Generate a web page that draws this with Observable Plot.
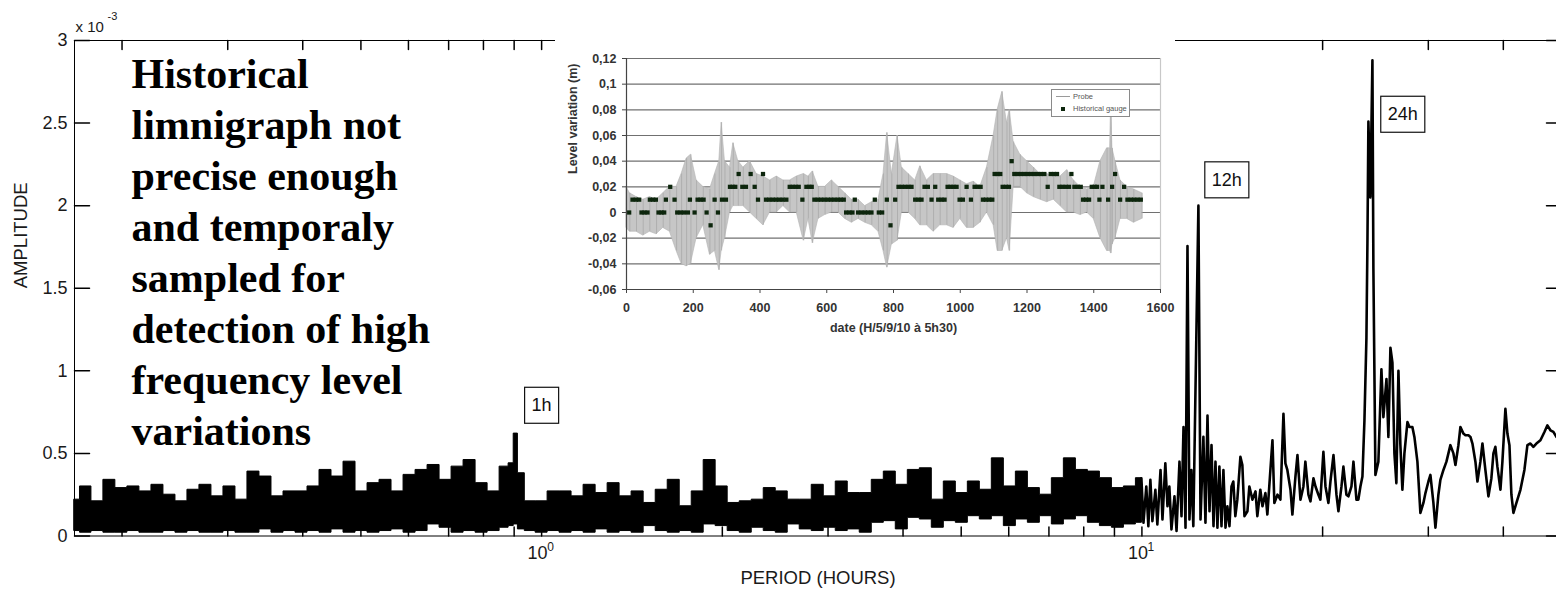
<!DOCTYPE html>
<html><head><meta charset="utf-8">
<script src="https://cdn.jsdelivr.net/npm/d3@7"></script>
<script src="https://cdn.jsdelivr.net/npm/@observablehq/plot@0.6"></script>
<style>
html,body{margin:0;padding:0;background:#fff;overflow:hidden;}
#wrap{position:relative;width:1556px;height:598px;overflow:hidden;background:#fff;}
#main{position:absolute;left:0;top:0;}
#inset{position:absolute;left:555px;top:36px;}
#legend{position:absolute;left:1051px;top:89px;width:77px;height:26px;border:1px solid #8a8a8a;background:#fff;font-family:"Liberation Sans",Arial,sans-serif;color:#555;}
#legend .row{position:absolute;left:4px;height:9px;display:flex;align-items:center;white-space:nowrap;}
#legend .ln{display:inline-block;width:14px;height:1px;background:#9a9a9a;margin-right:3px;}
#legend .sq{display:inline-block;width:4px;height:4px;background:#0d260d;margin:0 8px 0 5px;}
#legend .lt{font-size:7.5px;line-height:9px;}
</style></head><body>
<div id="wrap"><div id="main"></div><div id="inset"></div>
<div id="legend"><div class="row" style="top:2px"><span class="ln"></span><span class="lt">Probe</span></div><div class="row" style="top:14px"><span class="sq"></span><span class="lt">Historical gauge</span></div></div>
</div>
<script>
// ---------------- main spectrum ----------------
const periodDomain = [1/6, 50];
const amplitudeDomain = [0, 3];
const yTickValues = [0, 0.5, 1, 1.5, 2, 2.5, 3];
const yTickLabels = ["0", "0.5", "1", "1.5", "2", "2.5", "3"];
const xMinorTicks = [0.2,0.3,0.4,0.5,0.6,0.7,0.8,0.9,1,2,3,4,5,6,7,8,9,10,20,30,40];
const xDecadeTicks = [1, 10];
const xDecadeExponents = ["0", "1"];

// dense part of the spectrum (envelope of the black band), period in hours, amplitude x 1e-3
const bandPeriod = [0.1667,0.1738,0.1820,0.1905,0.1995,0.2089,0.2188,0.2291,0.2399,0.2512,
  0.2630,0.2754,0.2884,0.3020,0.3162,0.3311,0.3467,0.3631,0.3802,0.3981,
  0.4169,0.4365,0.4571,0.4786,0.5012,0.5248,0.5495,0.5754,0.6026,0.6310,
  0.6607,0.6918,0.7244,0.7586,0.7943,0.8318,0.8710,0.8913,0.9057,0.9204,
  0.9550,1.000,1.047,1.096,1.148,1.202,1.259,1.318,1.380,1.445,
  1.514,1.585,1.660,1.738,1.820,1.905,1.995,2.089,2.188,2.291,
  2.399,2.512,2.630,2.754,2.884,3.020,3.162,3.311,3.467,3.631,
  3.802,3.981,4.169,4.365,4.571,4.786,5.012,5.248,5.495,5.754,
  6.026,6.310,6.607,6.918,7.244,7.586,7.943,8.318,8.710,9.120,
  9.550,10.00];
const bandHigh = [0.22,0.30,0.21,0.34,0.29,0.30,0.27,0.31,0.25,0.21,
  0.28,0.31,0.24,0.30,0.22,0.39,0.36,0.24,0.27,0.27,
  0.30,0.40,0.36,0.45,0.27,0.32,0.34,0.27,0.37,0.40,
  0.43,0.34,0.42,0.46,0.32,0.27,0.42,0.44,0.62,0.38,
  0.21,0.21,0.27,0.27,0.24,0.31,0.26,0.32,0.24,0.27,
  0.20,0.28,0.34,0.18,0.27,0.46,0.30,0.20,0.21,0.22,
  0.29,0.27,0.22,0.22,0.31,0.24,0.33,0.26,0.26,0.34,
  0.39,0.31,0.40,0.41,0.22,0.33,0.26,0.33,0.28,0.47,
  0.30,0.39,0.29,0.25,0.35,0.47,0.40,0.39,0.35,0.29,
  0.30,0.35];
const bandLow = [0.03,0.02,0.03,0.02,0.02,0.03,0.02,0.02,0.03,0.02,
  0.03,0.02,0.02,0.03,0.02,0.02,0.04,0.02,0.03,0.02,
  0.03,0.02,0.04,0.02,0.03,0.02,0.03,0.04,0.02,0.03,
  0.07,0.05,0.02,0.03,0.02,0.03,0.05,0.06,0.07,0.04,
  0.03,0.02,0.03,0.02,0.03,0.02,0.04,0.02,0.03,0.02,
  0.06,0.03,0.02,0.03,0.02,0.07,0.06,0.03,0.02,0.05,
  0.03,0.02,0.07,0.04,0.03,0.05,0.03,0.04,0.02,0.08,
  0.09,0.04,0.11,0.10,0.05,0.09,0.08,0.12,0.10,0.12,
  0.06,0.10,0.08,0.12,0.07,0.10,0.12,0.08,0.06,0.05,
  0.07,0.08];

// sparse part of the spectrum (individual oscillations), period in hours, amplitude x 1e-3
const linePeriod = [9.98,10.06,10.17,10.25,10.33,10.41,10.53,10.61,10.74,10.82,
  10.94,11.03,11.11,11.20,11.33,11.42,11.55,11.64,11.73,11.82,
  11.91,12.00,12.09,12.18,12.42,12.52,12.66,12.76,12.86,12.96,
  13.06,13.16,13.26,13.36,13.46,13.57,13.67,13.78,13.88,13.99,
  14.10,14.20,14.31,14.42,14.59,14.70,14.82,14.99,15.10,15.28,
  15.46,15.57,15.75,15.88,16.06,16.18,16.37,16.50,16.62,16.82,
  17.01,17.21,17.34,17.47,17.68,17.81,18.02,18.16,18.37,18.58,
  18.72,18.94,19.09,19.31,19.46,19.68,19.83,20.06,20.22,20.45,
  20.61,20.85,21.09,21.25,21.50,21.66,21.91,22.08,22.34,22.51,
  22.77,22.94,23.12,23.30,23.48,23.66,23.75,23.84,24.02,24.21,
  24.30,24.49,24.77,25.06,25.25,25.55,25.74,25.94,26.14,26.34,
  26.54,26.75,26.95,27.16,27.37,27.69,27.90,28.22,28.44,28.77,
  29.10,29.44,29.67,30.01,30.24,30.59,30.83,31.18,31.42,31.79,
  32.16,32.65,33.03,33.29,33.67,33.93,34.32,34.59,34.99,35.26,
  35.53,35.94,36.22,36.63,36.92,37.34,37.78,38.21,38.51,38.80,
  39.10,39.56,39.86,40.32,40.63,40.95,41.26,41.58,42.06,42.71,
  43.37,43.87,44.38,44.89,45.41,46.12,46.83,47.37,47.92,48.47,
  49.03,50.0];
const lineAmp = [0.35,0.08,0.30,0.06,0.34,0.09,0.28,0.07,0.40,0.10,
  0.44,0.18,0.30,0.04,0.24,0.03,0.45,0.12,0.66,0.05,
  1.755,0.10,0.40,0.06,2.00,0.10,0.60,0.08,0.73,0.15,
  0.55,0.06,0.45,0.05,0.42,0.06,0.40,0.05,0.18,0.06,
  0.30,0.33,0.12,0.22,0.48,0.43,0.12,0.15,0.30,0.22,
  0.27,0.12,0.28,0.18,0.26,0.13,0.40,0.58,0.20,0.25,
  0.22,0.74,0.44,0.40,0.28,0.13,0.36,0.49,0.22,0.30,
  0.45,0.25,0.21,0.35,0.30,0.25,0.22,0.51,0.30,0.20,
  0.33,0.49,0.25,0.15,0.30,0.42,0.25,0.24,0.30,0.45,
  0.22,0.22,0.30,0.36,0.70,1.20,1.77,2.51,2.05,2.88,
  1.62,0.37,0.45,1.01,0.72,0.95,0.60,1.14,1.05,0.50,
  0.32,1.00,0.55,0.28,0.50,0.69,0.66,0.66,0.60,0.45,
  0.14,0.20,0.26,0.33,0.37,0.20,0.05,0.25,0.34,0.40,
  0.45,0.55,0.50,0.43,0.55,0.66,0.62,0.61,0.61,0.60,
  0.56,0.45,0.33,0.45,0.56,0.40,0.24,0.35,0.50,0.54,
  0.42,0.28,0.45,0.77,0.62,0.55,0.25,0.14,0.20,0.28,
  0.40,0.55,0.56,0.54,0.56,0.58,0.63,0.67,0.64,0.63,
  0.60,0.64];

const annoText = ["1h", "12h", "24h"];
const annoPeriod = [1.0, 13.85, 27.2];
const annoAmp = [0.79, 2.155, 2.552];

const noteLines = ["Historical", "limnigraph not", "precise enough", "and temporaly",
  "sampled for", "detection of high", "frequency level", "variations"];

// ---------------- inset (time series) ----------------
const insetXTicks = [0, 200, 400, 600, 800, 1000, 1200, 1400, 1600];
const insetYTicks = [-0.06, -0.04, -0.02, 0, 0.02, 0.04, 0.06, 0.08, 0.1, 0.12];
const insetYLabels = ["-0,06", "-0,04", "-0,02", "0", "0,02", "0,04", "0,06", "0,08", "0,1", "0,12"];

const probeT = [0,10,30,50,70,90,110,130,150,165,180,193,210,230,250,265,278,285,295,310,
  320,335,350,370,390,410,430,450,470,490,510,531,545,558,575,595,615,635,655,675,
  695,715,735,755,770,781,795,812,825,845,865,880,900,920,940,960,980,1000,1020,1040,
  1060,1080,1100,1112,1126,1140,1148,1160,1180,1200,1220,1240,1260,1280,1300,1320,1340,1360,1380,1400,
  1420,1440,1449,1452,1456,1465,1480,1500,1520,1545];
const probeLow = [-0.012,-0.015,-0.015,-0.018,-0.015,-0.017,-0.012,-0.015,-0.030,-0.040,
  -0.042,-0.040,-0.020,-0.010,-0.033,-0.030,-0.045,-0.030,-0.020,0.000,
  0.005,0.005,0.005,0.000,-0.005,-0.010,0.000,0.000,0.005,0.000,
  0.000,-0.022,-0.005,-0.024,-0.005,-0.002,0.000,0.000,-0.005,-0.008,
  -0.005,-0.008,-0.010,-0.015,-0.030,-0.043,-0.025,-0.022,0.000,0.000,
  -0.005,-0.010,-0.010,-0.015,-0.010,-0.010,-0.012,-0.005,-0.012,-0.012,
  -0.008,0.000,-0.010,-0.030,-0.030,-0.020,-0.030,0.020,0.020,0.015,
  0.012,0.010,0.008,0.010,0.005,0.000,0.000,-0.002,0.000,-0.005,
  -0.020,-0.030,-0.030,-0.032,-0.025,-0.020,-0.005,-0.005,-0.008,-0.005];
const probeHigh = [0.020,0.015,0.012,0.010,0.012,0.010,0.015,0.020,0.020,0.030,
  0.042,0.045,0.025,0.020,0.018,0.030,0.040,0.070,0.040,0.035,
  0.054,0.040,0.035,0.040,0.030,0.028,0.025,0.028,0.025,0.025,
  0.028,0.030,0.028,0.032,0.020,0.020,0.025,0.020,0.015,0.010,
  0.010,0.005,0.008,0.010,0.030,0.062,0.030,0.060,0.035,0.030,
  0.025,0.036,0.025,0.030,0.030,0.030,0.028,0.025,0.022,0.024,
  0.020,0.035,0.060,0.080,0.094,0.070,0.080,0.055,0.045,0.040,
  0.035,0.030,0.030,0.028,0.028,0.033,0.025,0.020,0.018,0.020,
  0.040,0.050,0.050,0.085,0.050,0.040,0.025,0.020,0.018,0.015];

const gaugeT = [8,18,28,38,45,54,63,70,80,88,
  96,105,113,118,131,144,152,162,172,184,
  190,204,213,222,231,240,252,264,274,286,
  298,310,318,326,336,347,358,372,384,394,
  409,418,428,438,448,458,468,479,489,498,
  507,516,527,539,548,555,563,573,583,593,
  603,613,623,633,642,651,658,668,677,684,
  694,704,714,724,734,744,756,766,780,791,
  805,815,825,835,845,854,865,875,884,893,
  903,914,925,934,944,953,962,971,980,989,
  998,1008,1019,1032,1043,1052,1061,1068,1077,1087,
  1096,1103,1112,1120,1127,1137,1146,1154,1162,1172,
  1182,1192,1202,1212,1222,1232,1242,1252,1262,1271,
  1281,1290,1297,1306,1316,1326,1333,1342,1352,1361,
  1368,1377,1386,1394,1403,1410,1417,1426,1443,1455,
  1464,1479,1491,1501,1511,1521,1531,1541];
const gaugeLevel = [0,0.01,0.01,0.01,0,0,0,0.01,0.01,0.01,
  0,0,0,0.01,0.02,0.01,0,0,0,0,
  0.01,0,0.01,0.01,0.01,0,-0.01,0.01,0,0.01,
  0.01,0.02,0.02,0.02,0.03,0.02,0.02,0.03,0.02,0.01,
  0.03,0.01,0.01,0.01,0.01,0.01,0.01,0.01,0.02,0.02,
  0.02,0.02,0.01,0.02,0.02,0.02,0.01,0.01,0.01,0.01,
  0.01,0.01,0.01,0.01,0.01,0.01,0,0,0,0.01,
  0,0,0,0,0,0.01,0,0,0.01,-0.01,
  0.01,0.02,0.02,0.02,0.02,0.02,0.01,0.01,0.01,0.02,
  0.02,0.01,0.02,0.01,0.01,0.01,0.02,0.02,0.02,0.02,
  0.01,0.01,0.02,0.01,0.02,0.02,0.02,0.01,0.01,0.01,
  0.01,0.03,0.03,0.03,0.02,0.02,0.02,0.04,0.03,0.03,
  0.03,0.03,0.03,0.03,0.03,0.03,0.03,0.03,0.02,0.03,
  0.03,0.03,0.02,0.02,0.02,0.02,0.03,0.02,0.02,0.02,
  0.01,0.01,0.01,0.02,0.02,0.02,0.01,0.02,0.01,0.02,
  0.03,0.01,0.02,0.01,0.01,0.01,0.01,0.01];

const sans = "'Liberation Sans', Arial, Helvetica, sans-serif";
const tickShape = {draw(ctx, l) { ctx.moveTo(0, 0); ctx.lineTo(0, -l); }};

const main = Plot.plot({
  width: 1561, height: 598,
  marginLeft: 74, marginRight: 0, marginTop: 40, marginBottom: 62.5,
  x: {type: "log", domain: periodDomain, axis: null},
  y: {domain: amplitudeDomain},
  style: {fontFamily: sans, background: "white", color: "#1a1a1a", maxWidth: "none", overflow: "visible"},
  marks: [
    Plot.areaY(bandPeriod, {x: bandPeriod, y1: bandLow, y2: bandHigh, curve: "step", fill: "black", stroke: "black", strokeWidth: 1}),
    Plot.lineY(linePeriod, {x: linePeriod, y: lineAmp, stroke: "black", strokeWidth: 2.6}),
    Plot.frame({stroke: "black", strokeWidth: 1}),
    Plot.vector(yTickValues, {x: () => periodDomain[0], y: d => d, length: 15, rotate: 90, anchor: "start", shape: tickShape, stroke: "black"}),
    Plot.vector(yTickValues, {x: () => periodDomain[1], y: d => d, length: 15, rotate: -90, anchor: "start", shape: tickShape, stroke: "black"}),
    Plot.vector(xMinorTicks, {x: d => d, y: () => amplitudeDomain[0], length: 9, rotate: 0, anchor: "start", shape: tickShape, stroke: "black"}),
    Plot.vector(xMinorTicks, {x: d => d, y: () => amplitudeDomain[1], length: 9, rotate: 180, anchor: "start", shape: tickShape, stroke: "black"}),
    Plot.axisY({ticks: yTickValues, tickFormat: d => yTickLabels[yTickValues.indexOf(d)], tickSize: 0, tickPadding: 7, fontSize: 18, label: null}),
    Plot.text(xDecadeTicks, {x: d => d, frameAnchor: "bottom", text: () => "10", dx: -4, dy: 23, fontSize: 18}),
    Plot.text(xDecadeTicks, {x: d => d, frameAnchor: "bottom", text: (d, i) => xDecadeExponents[i], dx: 9, dy: 15, fontSize: 12}),
    Plot.text(["PERIOD (HOURS)"], {text: d => d, frameAnchor: "bottom", dy: 47.5, fontSize: 18.5}),
    Plot.text(["AMPLITUDE"], {text: d => d, frameAnchor: "left", dx: -53, rotate: -90, fontSize: 18.5}),
    Plot.text(["x 10"], {text: d => d, frameAnchor: "top-left", dx: 1, dy: -19, textAnchor: "start", fontSize: 15}),
    Plot.text(["-3"], {text: d => d, frameAnchor: "top-left", dx: 33, dy: -28, textAnchor: "start", fontSize: 11}),
    Plot.text([noteLines.join("\n")], {text: d => d, frameAnchor: "top-left", dx: 57, dy: 11.3, textAnchor: "start", lineAnchor: "top", lineHeight: 1.214, fontSize: 42, fontFamily: "'Liberation Serif', 'Times New Roman', serif", fontWeight: "bold", fill: "black"}),
    Plot.text(annoText, {x: annoPeriod, y: annoAmp, text: annoText, fontSize: 18, fill: "#111"})
  ]
});
document.getElementById("main").appendChild(main);

// boxes around the peak annotations
d3.select(main).selectAll("text").each(function () {
  if (annoText.includes(this.textContent)) {
    const b = this.getBBox();
    const r = document.createElementNS("http://www.w3.org/2000/svg", "rect");
    r.setAttribute("x", b.x - 7);
    r.setAttribute("y", b.y - 8);
    r.setAttribute("width", b.width + 14);
    r.setAttribute("height", b.height + 16);
    r.setAttribute("fill", "none");
    r.setAttribute("stroke", "#111");
    r.setAttribute("stroke-width", "1.2");
    if (this.getAttribute("transform")) r.setAttribute("transform", this.getAttribute("transform"));
    this.parentNode.insertBefore(r, this);
  }
});

const inset = Plot.plot({
  width: 620, height: 312,
  marginLeft: 71, marginRight: 15, marginTop: 22, marginBottom: 59,
  x: {domain: [insetXTicks[0], insetXTicks[insetXTicks.length - 1]]},
  y: {domain: [insetYTicks[0], insetYTicks[insetYTicks.length - 1]]},
  style: {fontFamily: sans, background: "white", color: "#333", maxWidth: "none"},
  marks: [
    Plot.ruleY(insetYTicks.slice(1), {stroke: "#707070", strokeWidth: 1.2}),
    Plot.ruleX([insetXTicks[insetXTicks.length - 1]], {stroke: "#c8c8c8", strokeWidth: 1.2}),
    Plot.areaY(probeT, {x: probeT, y1: probeLow, y2: probeHigh, fill: "#c6c6c6", stroke: "#b4b4b4", strokeWidth: 0.6}),
    Plot.ruleX(probeT, {x: probeT, y1: probeLow, y2: probeHigh, stroke: "#a9a9a9", strokeWidth: 0.8}),
    Plot.dot(gaugeT, {x: gaugeT, y: gaugeLevel, symbol: "square", r: 2.4, fill: "#0d260d"}),
    Plot.ruleX([insetXTicks[0]], {stroke: "#444", strokeWidth: 1.2}),
    Plot.ruleY([insetYTicks[0]], {stroke: "#444", strokeWidth: 1.2}),
    Plot.axisY({ticks: insetYTicks, tickFormat: d => insetYLabels[insetYTicks.indexOf(d)], tickSize: 4, tickPadding: 6, fontSize: 12.5, fontWeight: "bold", label: null, stroke: "#444"}),
    Plot.axisX({ticks: insetXTicks, tickFormat: d => String(d), tickSize: 4, tickPadding: 10, fontSize: 12.5, fontWeight: "bold", label: null, stroke: "#444"}),
    Plot.text(["date (H/5/9/10 à 5h30)"], {text: d => d, frameAnchor: "bottom", dy: 42.7, fontSize: 12.5, fontWeight: "bold"}),
    Plot.text(["Level variation (m)"], {text: d => d, frameAnchor: "left", dx: -54, rotate: -90, fontSize: 12.5, fontWeight: "bold"})
  ]
});
document.getElementById("inset").appendChild(inset);
</script>
</body></html>
